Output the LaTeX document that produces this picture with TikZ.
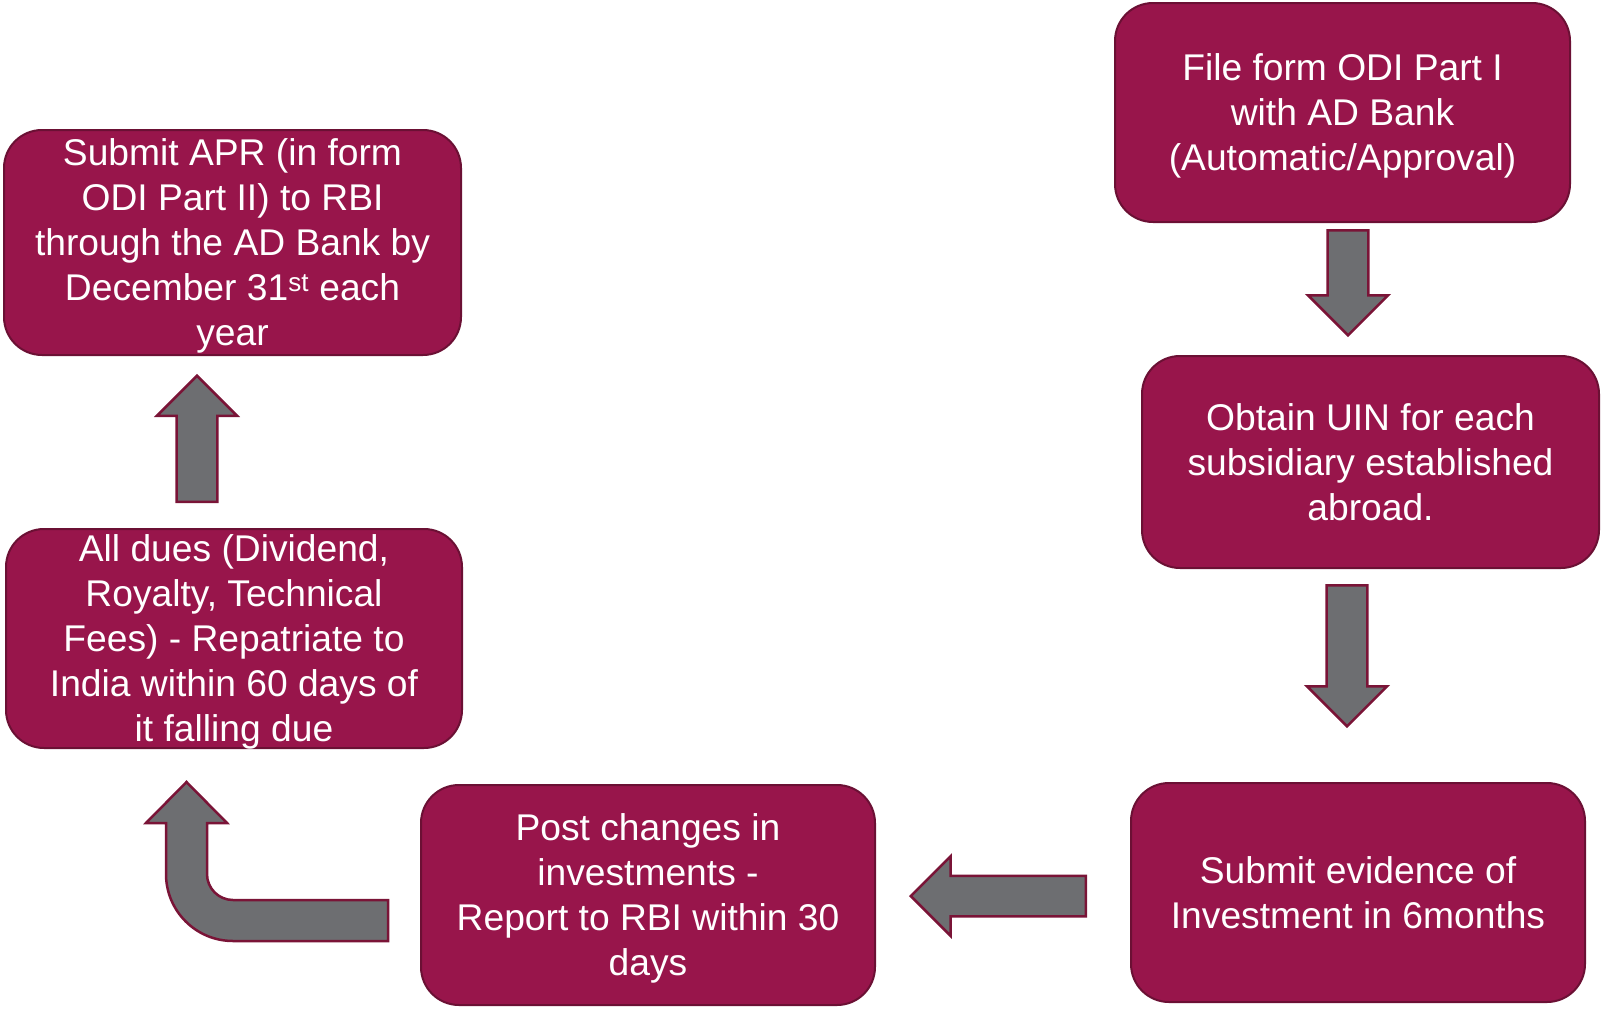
\documentclass[tikz,border=0pt]{standalone}
\usepackage{fontspec}
\setmainfont{Liberation Sans}
\usetikzlibrary{shapes.arrows}
\definecolor{boxred}{HTML}{98154B}
\definecolor{boxedge}{HTML}{6B1034}
\definecolor{arrowgray}{HTML}{6D6E71}
\definecolor{arrowedge}{HTML}{7A1437}
\begin{document}
\begin{tikzpicture}[x=1pt,y=-1pt,
  stepbox/.style={draw=boxedge, line width=2pt, fill=boxred, rounded corners=38pt,
    text=white, align=center, inner sep=0pt, text depth=0pt,
    font=\fontsize{37.2}{45}\selectfont},
  blockarrow/.style={single arrow, draw=arrowedge, line width=2.5pt, fill=arrowgray,
    inner sep=19pt, single arrow head extend=19.5pt, anchor=tail}]
\useasboundingbox (0,0) rectangle (1601,1009);
% steps
\node[stepbox, minimum width=455pt, minimum height=219pt] (1) at (1342.5,112.5) {File form ODI Part I\\with AD Bank\\(Automatic/Approval)};
\node[stepbox, minimum width=457pt, minimum height=212pt] (2) at (1370.5,462) {Obtain UIN for each\\subsidiary established\\abroad.};
\node[stepbox, minimum width=454pt, minimum height=219pt] (3) at (1358,892.5) {Submit evidence of\\Investment in 6months};
\node[stepbox, minimum width=454pt, minimum height=220pt] (4) at (648,895) {Post changes in\\investments -\\Report to RBI within 30\\days};
\node[stepbox, minimum width=456pt, minimum height=219pt] (5) at (234,638.5) {All dues (Dividend,\\Royalty, Technical\\Fees) - Repatriate to\\India within 60 days of\\it falling due};
\node[stepbox, minimum width=457pt, minimum height=225pt] (6) at (232.5,242.5) {Submit APR (in form\\ODI Part II) to RBI\\through the AD Bank by\\December 31\textsuperscript{st} each\\year};
% arrows
\node[blockarrow, shape border rotate=270, minimum width=80pt, minimum height=105pt] (a1) at (1348,229) {};
\node[blockarrow, shape border rotate=270, minimum width=80pt, minimum height=141pt] (a2) at (1347,584) {};
\node[blockarrow, shape border rotate=180, minimum width=78pt, minimum height=175pt] (a3) at (1087,896) {};
\node[blockarrow, shape border rotate=90, minimum width=80pt, minimum height=126pt] (a5) at (197,503) {};
\coordinate (a4) at (388,900);
\path[draw=arrowedge, line width=2.5pt, fill=arrowgray, line join=miter] (a4) -- (233,900)
  arc[start angle=90, end angle=180, radius=26] -- (207,823) -- (227,823) -- (186.5,782)
  -- (146,823) -- (166,823) -- (166,874) arc[start angle=180, end angle=90, radius=67]
  -- (388,941) -- cycle;
\end{tikzpicture}
\end{document}
